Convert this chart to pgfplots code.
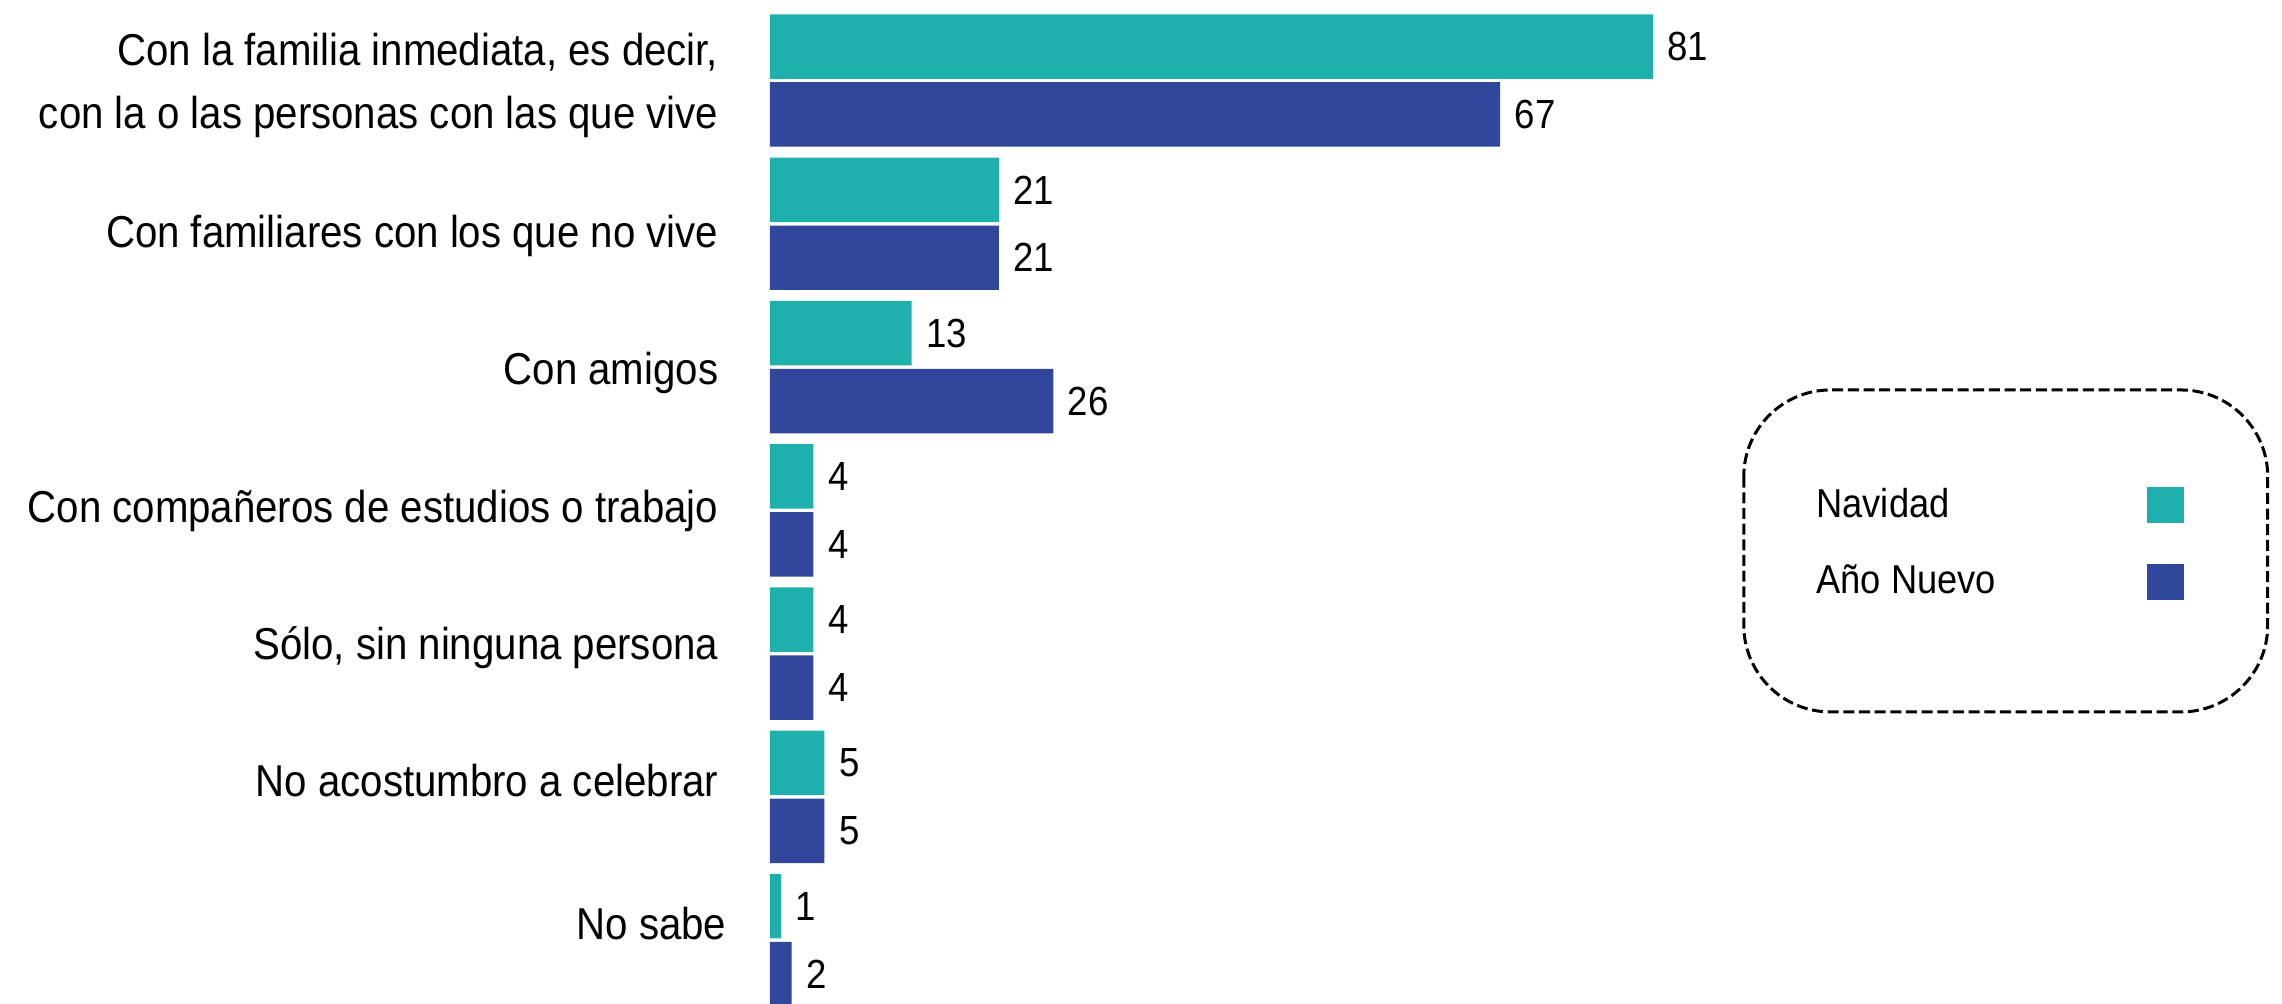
\documentclass[border=0pt]{standalone}
\usepackage{fontspec}
\setmainfont{Liberation Sans}[FakeStretch=0.9]
\usepackage{pgfplots}
\pgfplotsset{compat=1.18}
\definecolor{teal1}{HTML}{1FB0AE}
\definecolor{blue1}{HTML}{31479C}
\begin{document}
\begin{tikzpicture}
\begin{axis}[
  at={(231pt,0pt)}, anchor=north west,
  width=453.6pt, height=301.2pt, scale only axis,
  xbar, xmin=0, xmax=138.7, ymin=-0.5617, ymax=6.4445, y dir=reverse,
  bar width=0.45,
  axis line style={draw=none},
  xtick=\empty,
  ytick={0.3336,1.1689,2.1249,3.0879,4.0440,5.0000,5.9979},
  yticklabels={{Con la familia inmediata, es decir,\\con la o las personas con las que vive},
    {Con familiares con los que no vive},
    {Con amigos},
    {Con compañeros de estudios o trabajo},
    {Sólo, sin ninguna persona},
    {No acostumbro a celebrar},
    {No sabe\kern-2.4pt}},
  yticklabel style={anchor=base east, align=right, inner sep=0pt, xshift=-15.3pt, font=\fontsize{13.4}{18.8}\selectfont},
  major tick length=0pt,
  point meta=x,
  /pgf/number format/assume math mode=true,
  nodes near coords, nodes near coords align=horizontal,
  every node near coord/.append style={font=\fontsize{12.2}{14}\selectfont, inner sep=0pt, xshift=4.2pt, text=black},
  legend style={draw=none, fill=none, at={(0.6918,0.4587)}, anchor=west, inner sep=0pt, column sep=0pt, row sep=0pt,
    nodes={inner sep=0pt, minimum height=23.1pt, font=\fontsize{12.1}{14}\selectfont}},
  legend plot pos=right, legend cell align=left,
  legend image code/.code={\fill[#1] (0pt,-5.5pt) rectangle (11.1pt,5.5pt);},
]
\addplot[fill=teal1, draw=none, bar shift=-0.237] coordinates {(81,0) (21,1) (13,2) (4,3) (4,4) (5,5) (1,6)};
\addlegendentry{\makebox[99.3pt][l]{Navidad}}
\addplot[fill=blue1, draw=none, bar shift=0.237] coordinates {(67,0) (21,1) (26,2) (4,3) (4,4) (5,5) (2,6)};
\addlegendentry{\makebox[99.3pt][l]{Año Nuevo}}
\end{axis}
\begin{scope}[x=0.3pt,y=-0.3pt]
\draw[line width=0.9pt, dash pattern=on 3.3pt off 1.4pt, rounded corners=26pt] (1744,390) rectangle (2268,712);
\path (0,0) rectangle (2282,1004);
\end{scope}
\end{tikzpicture}
\end{document}
